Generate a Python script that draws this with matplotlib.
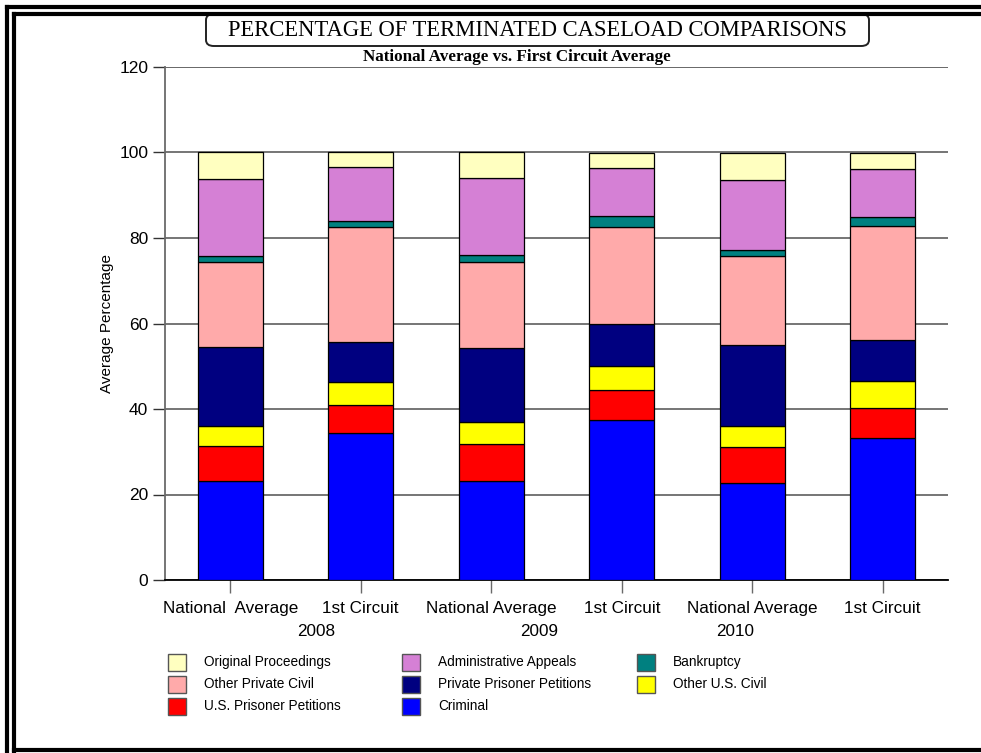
import matplotlib.pyplot as plt
import numpy as np
from matplotlib.patches import FancyBboxPatch, Rectangle
from matplotlib.lines import Line2D

# Groups (bottom to top of each stack)
groups = ["National  Average", "1st Circuit", "National Average",
          "1st Circuit", "National Average", "1st Circuit"]
years = ["2008", "2009", "2010"]
year_pos = [0.66, 2.37, 3.87]

categories = ["Criminal", "U.S. Prisoner Petitions", "Other U.S. Civil",
              "Private Prisoner Petitions", "Other Private Civil",
              "Bankruptcy", "Administrative Appeals", "Original Proceedings"]
colours = ["#0000FF", "#FF0000", "#FFFF00", "#000080", "#FFAAAA",
           "#008080", "#D580D5", "#FFFFC0"]

criminal = [23.1, 34.3, 23.1, 37.5, 22.6, 33.1]
us_prisoner = [8.2, 6.7, 8.8, 7.0, 8.5, 7.2]
other_us_civil = [4.8, 5.2, 5.1, 5.6, 5.0, 6.3]
private_prisoner = [18.4, 9.4, 17.2, 9.9, 18.8, 9.5]
other_private_civil = [20.0, 26.9, 20.3, 22.6, 21.0, 26.6]
bankruptcy = [1.4, 1.5, 1.5, 2.5, 1.3, 2.3]
admin_appeals = [17.8, 12.6, 18.1, 11.3, 16.4, 11.2]
original = [6.3, 3.4, 5.9, 3.6, 6.4, 3.6]

series = [criminal, us_prisoner, other_us_civil, private_prisoner,
          other_private_civil, bankruptcy, admin_appeals, original]

# legend order, row by row
legend_order = ["Original Proceedings", "Administrative Appeals", "Bankruptcy",
                "Other Private Civil", "Private Prisoner Petitions", "Other U.S. Civil",
                "U.S. Prisoner Petitions", "Criminal"]

plt.rcParams["font.family"] = ["Liberation Sans", "DejaVu Sans"]

fig = plt.figure(figsize=(9.81, 7.53), dpi=100)
W, H = 981, 753
ax = fig.add_axes([165 / W, 1 - 580 / H, (948 - 165) / W, (580 - 67) / H])

x = np.arange(len(groups))
bottom = np.zeros(len(groups))
for vals, col in zip(series, colours):
    ax.bar(x, vals, width=0.5, bottom=bottom, color=col,
           edgecolor="black", linewidth=0.9, zorder=3)
    bottom += np.array(vals)

ax.set_xlim(-0.5, 5.5)
ax.set_ylim(0, 120)
ax.set_yticks(np.arange(0, 121, 20))
ax.yaxis.grid(True, color="#6a6a6a", linewidth=1.3, zorder=0)
ax.set_axisbelow(True)
ax.axhline(120, color="#6a6a6a", linewidth=1.3, zorder=1)
ax.spines[["top", "right"]].set_visible(False)
ax.spines["left"].set_color("#6a6a6a")
ax.spines["left"].set_linewidth(1.3)
ax.spines["bottom"].set_linewidth(1.3)
ax.tick_params(axis="y", length=9, width=1, color="#333333", labelsize=12.5, pad=3)
ax.tick_params(axis="x", length=9, width=1, color="#6a6a6a", labelsize=12.3, pad=6)
ax.set_xticks(x)
ax.set_xticklabels(groups)
ax.set_ylabel("Average Percentage", fontsize=11, labelpad=4)

for yr, pos in zip(years, year_pos):
    ax.text(pos, -0.1, yr, transform=ax.get_xaxis_transform(),
            ha="center", va="center", fontsize=12.3)

# double page frame
for off, lw in [(6.5, 3.0), (13.5, 3.0)]:
    fig.add_artist(Line2D([off / W, off / W], [0, 1 - off / H], color="black",
                          linewidth=lw, transform=fig.transFigure))
    fig.add_artist(Line2D([off / W, 1], [1 - off / H, 1 - off / H], color="black",
                          linewidth=lw, transform=fig.transFigure))
fig.add_artist(Line2D([13.5 / W, 1], [1 - 749.5 / H, 1 - 749.5 / H], color="black",
                      linewidth=3.0, transform=fig.transFigure))

# title box
box = FancyBboxPatch((206 / W, 1 - 46 / H), (869 - 206) / W, (46 - 14) / H,
                     boxstyle="round,pad=0,rounding_size=0.008",
                     transform=fig.transFigure, facecolor="white",
                     edgecolor="#222222", linewidth=1.4)
fig.add_artist(box)
fig.text(537 / W, 1 - 31 / H, "PERCENTAGE OF TERMINATED CASELOAD COMPARISONS",
         ha="center", va="center", fontsize=16.3, family="Liberation Serif")
fig.text(517 / W, 1 - 57 / H, "National Average vs. First Circuit Average",
         ha="center", va="center", fontsize=12.3, fontweight="bold",
         family="Liberation Serif")

# legend, three columns
col_x = [168, 402, 637]
row_y = [662, 684, 706]
for i, name in enumerate(legend_order):
    r, c = divmod(i, 3)
    colour = colours[categories.index(name)]
    fig.add_artist(Rectangle((col_x[c] / W, 1 - (row_y[r] + 8.5) / H), 18 / W, 17 / H,
                             transform=fig.transFigure, facecolor=colour,
                             edgecolor="#555555", linewidth=1.0))
    fig.text((col_x[c] + 36) / W, 1 - row_y[r] / H, name, ha="left",
             va="center", fontsize=9.8)

fig.savefig("out.png", dpi=100)
